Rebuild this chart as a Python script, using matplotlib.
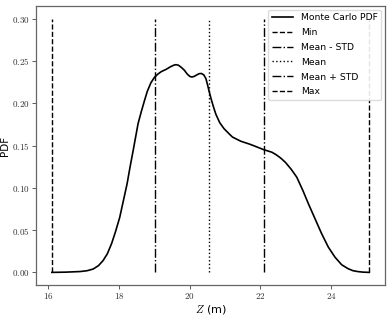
import numpy as np
import matplotlib
matplotlib.use("Agg")
import matplotlib.pyplot as plt
from matplotlib.ticker import FuncFormatter

plt.rcParams['mathtext.fontset'] = 'cm'
plt.rcParams['font.family'] = ['DejaVu Sans']

# PDF
z = [16.10, 16.50, 16.90, 17.10, 17.27, 17.42, 17.55, 17.67, 17.79, 17.90,
     18.02, 18.12, 18.23, 18.31, 18.40, 18.47, 18.54, 18.63, 18.72, 18.80,
     18.90, 19.00, 19.10, 19.20, 19.33, 19.45, 19.55, 19.61, 19.68, 19.76,
     19.85, 19.93, 20.00, 20.06, 20.13, 20.20, 20.27, 20.33, 20.40, 20.46,
     20.51, 20.55, 20.60, 20.67, 20.74, 20.85, 20.97, 21.10, 21.21, 21.33,
     21.45, 21.56, 21.67, 21.80, 21.95, 22.10, 22.22, 22.33, 22.45, 22.58,
     22.71, 22.87, 23.03, 23.20, 23.36, 23.55, 23.73, 23.92, 24.11, 24.30,
     24.48, 24.62, 24.75, 24.90, 25.08]
pdf = [0.000, 0.0003, 0.001, 0.002, 0.004, 0.008, 0.014, 0.022, 0.034, 0.048,
       0.065, 0.084, 0.105, 0.124, 0.144, 0.160, 0.176, 0.190, 0.203, 0.214,
       0.224, 0.2305, 0.2345, 0.2375, 0.240, 0.243, 0.245, 0.2456, 0.2450, 0.2425,
       0.239, 0.2345, 0.2318, 0.231, 0.2318, 0.2335, 0.2350, 0.2352, 0.2335, 0.229,
       0.221, 0.214, 0.206, 0.196, 0.187, 0.177, 0.170, 0.1645, 0.160, 0.1575,
       0.155, 0.1535, 0.152, 0.150, 0.1475, 0.145, 0.1435, 0.142, 0.139, 0.135,
       0.130, 0.122, 0.1125, 0.097, 0.081, 0.063, 0.046, 0.030, 0.018, 0.009,
       0.0044, 0.002, 0.001, 0.0003, 0.000]

z_min = 16.10
z_max = 25.08
z_mean = 20.56
z_std = 1.545
y_top = 0.30

fig = plt.figure(figsize=(3.91, 3.15), dpi=100)
ax = fig.add_axes([0.092, 0.095, 0.893, 0.886])

ax.plot(z, pdf, color='black', lw=1.2, label='Monte Carlo PDF')
ax.vlines(z_min, 0, y_top, colors='black', linestyles='--', lw=1.0, label='Min')
ax.vlines(z_mean - z_std, 0, y_top, colors='black', linestyles='-.', lw=1.0, label='Mean - STD')
ax.vlines(z_mean, 0, y_top, colors='black', linestyles=':', lw=1.0, label='Mean')
ax.vlines(z_mean + z_std, 0, y_top, colors='black', linestyles='-.', lw=1.0, label='Mean + STD')
ax.vlines(z_max, 0, y_top, colors='black', linestyles='--', lw=1.0, label='Max')

ax.set_xticks([16, 18, 20, 22, 24])
ax.set_yticks([0.0, 0.05, 0.10, 0.15, 0.20, 0.25, 0.30])
ax.xaxis.set_major_formatter(FuncFormatter(lambda v, p: r'$%d$' % v))
ax.yaxis.set_major_formatter(FuncFormatter(lambda v, p: r'$%.2f$' % v))
ax.tick_params(labelsize=6.5, length=3, width=0.7, color='0.35', pad=1.5,
               labelcolor='0.2')

for s in ax.spines.values():
    s.set_color('0.4')
    s.set_linewidth(0.9)

ax.set_xlabel(r'$Z$ (m)', fontsize=8, labelpad=1)
ax.set_ylabel('PDF', fontsize=7.5, labelpad=1.5)

ax.legend(loc='upper right', fontsize=6.7, frameon=True, framealpha=0.9,
          edgecolor='0.85', handlelength=2.3, handletextpad=0.8,
          borderpad=0.4, labelspacing=0.62, borderaxespad=0.4)

fig.savefig('out.png', dpi=100)
